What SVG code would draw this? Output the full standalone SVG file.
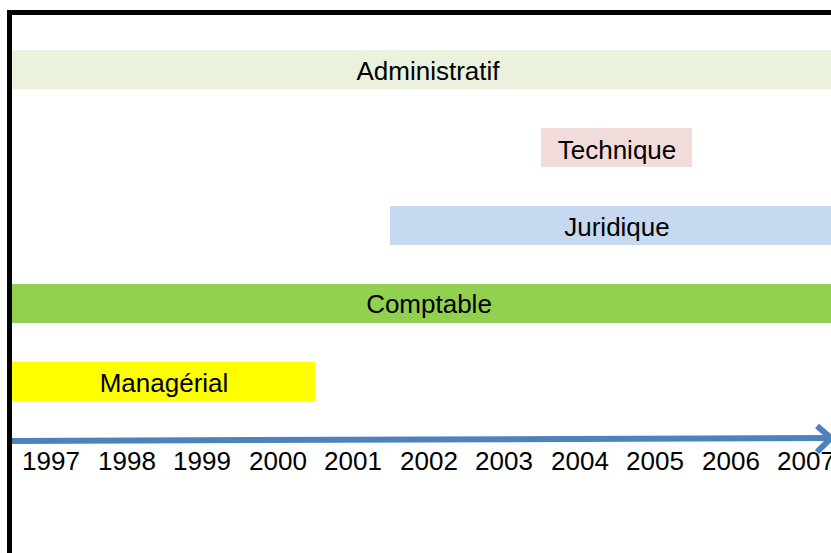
<svg xmlns="http://www.w3.org/2000/svg" width="831" height="553" viewBox="0 0 831 553">
<style>
text{font-family:"Liberation Sans",Arial,sans-serif;font-size:26px;fill:#000;text-anchor:middle}
.yr{font-size:26px}
</style>
<rect x="0" y="0" width="831" height="553" fill="#fff"/>
<g id="frame">
<path d="M9.5,553 V12.5 H831" fill="none" stroke="#000" stroke-width="5"/>
</g>
<g id="administratif"><rect x="12" y="50" width="819" height="39" fill="#EAF1DD"/><text x="428" y="80">Administratif</text></g>
<g id="technique"><rect x="541" y="128" width="151" height="39" fill="#F2DCDB"/><text x="617" y="159">Technique</text></g>
<g id="juridique"><rect x="390" y="206" width="441" height="39" fill="#C6D9F1"/><text x="617" y="236">Juridique</text></g>
<g id="comptable"><rect x="12" y="284" width="819" height="39" fill="#92D050"/><text x="429" y="313">Comptable</text></g>
<g id="managerial"><rect x="12" y="362" width="303" height="39" fill="#FFFF00"/><text x="164" y="392">Managérial</text></g>
<g id="connectors">
<path d="M12,441 L829,438" fill="none" stroke="#4F81BD" stroke-width="6"/>
<path d="M817,426 L831,438 L817,452" fill="none" stroke="#4F81BD" stroke-width="6" stroke-linejoin="miter"/>
</g>
<g id="years">
<text class="yr" x="51" y="470">1997</text>
<text class="yr" x="127" y="470">1998</text>
<text class="yr" x="202" y="470">1999</text>
<text class="yr" x="278" y="470">2000</text>
<text class="yr" x="353" y="470">2001</text>
<text class="yr" x="429" y="470">2002</text>
<text class="yr" x="504" y="470">2003</text>
<text class="yr" x="580" y="470">2004</text>
<text class="yr" x="655" y="470">2005</text>
<text class="yr" x="731" y="470">2006</text>
<text class="yr" x="806" y="470">2007</text>
</g>
</svg>
